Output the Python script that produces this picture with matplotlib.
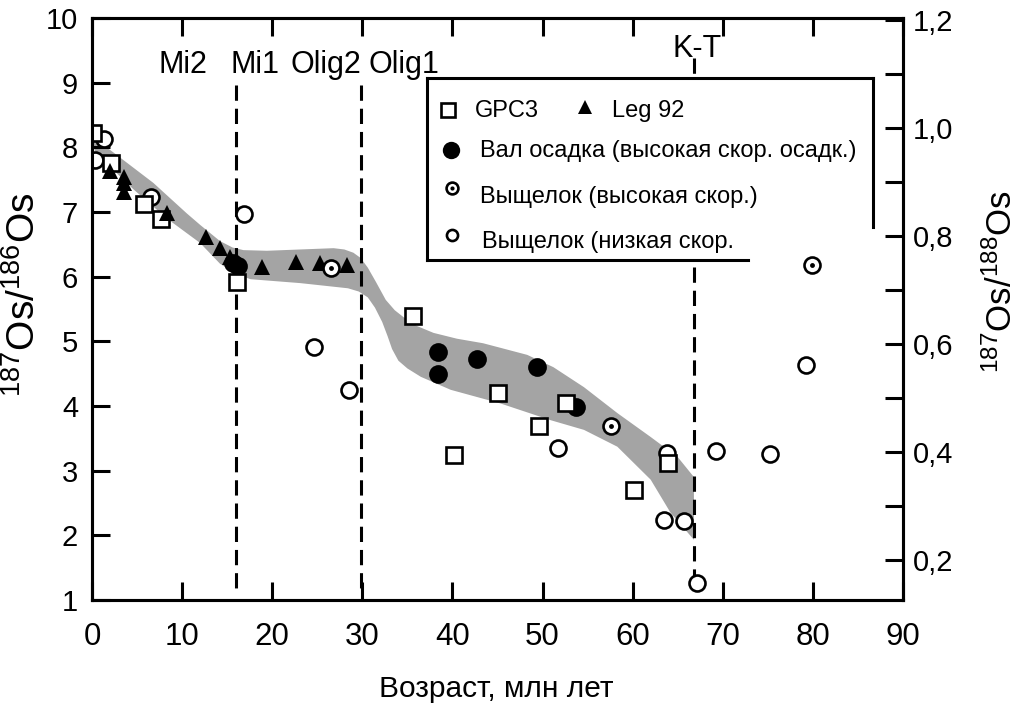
import numpy as np
import matplotlib
matplotlib.use('Agg')
import matplotlib.pyplot as plt
from matplotlib.patches import Rectangle
from matplotlib.ticker import MultipleLocator, FuncFormatter

plt.rcParams['font.family'] = ['Liberation Sans', 'DejaVu Sans']
plt.rcParams['mathtext.fontset'] = 'custom'
plt.rcParams['mathtext.rm'] = 'Liberation Sans'
plt.rcParams['mathtext.it'] = 'Liberation Sans:italic'

# --- data (age, Ma ; 187Os/186Os) ---
gpc3_age = [0.1, 2.1, 5.8, 7.6, 16.1, 35.6, 40.2, 45.1, 49.6, 52.6, 60.1, 63.9]
gpc3_os = [8.22, 7.76, 7.12, 6.89, 5.92, 5.39, 3.24, 4.20, 3.69, 4.05, 2.70, 3.12]

leg92_age = [2.0, 3.5, 3.5, 3.6, 8.3, 12.6, 14.2, 15.3, 18.9, 22.6, 25.3, 28.3]
leg92_os = [7.63, 7.54, 7.45, 7.31, 6.98, 6.61, 6.44, 6.30, 6.15, 6.23, 6.21, 6.18]

bulk_age = [15.7, 16.2, 38.4, 38.4, 42.7, 49.4, 53.7]
bulk_os = [6.21, 6.17, 4.84, 4.50, 4.73, 4.60, 3.98]

leach_hi_age = [26.5, 57.6, 79.9]
leach_hi_os = [6.13, 3.69, 6.18]

leach_lo_age = [0.3, 1.3, 6.5, 16.9, 24.6, 28.5, 51.7, 63.8, 63.5, 65.7, 67.1, 69.3, 75.2, 79.2]
leach_lo_os = [7.80, 8.13, 7.23, 6.97, 4.91, 4.25, 3.35, 3.27, 2.24, 2.22, 1.26, 3.30, 3.26, 4.63]

# grey envelope
band_up_age = [0.1, 2.0, 6.8, 10.5, 12.0, 14.2, 15.6, 16.8, 19.4, 26.8, 28.0, 29.0, 29.8, 30.6,
               31.5, 32.6, 33.6, 34.6, 36.0, 37.9, 40.5, 43.4, 48.3, 51.2, 54.6, 58.3, 62.0, 65.0, 66.8]
band_up_os = [8.11, 7.96, 7.45, 6.98, 6.80, 6.55, 6.45, 6.41, 6.40, 6.44, 6.42, 6.37, 6.29, 6.14,
              5.92, 5.64, 5.48, 5.37, 5.24, 5.13, 5.04, 4.97, 4.79, 4.60, 4.29, 3.89, 3.52, 3.21, 2.90]
band_lo_age = [0.3, 2.0, 4.6, 8.3, 12.0, 14.2, 16.0, 17.6, 23.1, 28.4, 29.6, 30.6, 31.4, 32.2,
               32.8, 33.3, 34.0, 35.0, 36.5, 39.8, 45.3, 50.9, 54.6, 58.3, 62.0, 64.2, 66.8]
band_lo_os = [7.95, 7.70, 7.35, 6.90, 6.52, 6.20, 6.04, 5.96, 5.90, 5.82, 5.77, 5.68, 5.52, 5.30,
              5.08, 4.88, 4.70, 4.58, 4.45, 4.25, 4.04, 3.78, 3.63, 3.37, 2.86, 2.35, 1.93]

event_ages = [16.0, 29.9, 66.8]
event_labels = ['Mi2', 'Mi1', 'Olig2', 'Olig1', 'K-T']

right_ticks = [0.2, 0.4, 0.6, 0.8, 1.0, 1.2]

fig = plt.figure(figsize=(10.26, 7.05), dpi=100)
ax = fig.add_axes([0.0897, 0.149, 0.7904, 0.8255])

# envelope
ax.fill(np.concatenate([band_up_age, band_lo_age[::-1]]),
        np.concatenate([band_up_os, band_lo_os[::-1]]),
        color='#a4a4a4', lw=0, zorder=1)

# event lines
dash = (0, (5, 2.6))
ax.plot([event_ages[0]] * 2, [8.96, 1.12], color='k', lw=2.2, ls=dash, zorder=1.5)
ax.plot([event_ages[1]] * 2, [8.96, 1.12], color='k', lw=2.2, ls=dash, zorder=1.5)
ax.plot([event_ages[2]] * 2, [9.38, 1.35], color='k', lw=2.2, ls=dash, zorder=1.5)

for name, x, y in zip(event_labels, [10.1, 18.1, 26.0, 34.6, 67.1],
                      [9.27, 9.27, 9.27, 9.27, 9.52]):
    ax.text(x, y, name, ha='center', va='center', fontsize=22, zorder=8)

# data points
ax.plot(leach_lo_age, leach_lo_os, 'o', ms=11.5, mfc='white', mec='k', mew=1.9, ls='none', zorder=3)
ax.plot(bulk_age, bulk_os, 'o', ms=13.5, color='k', mew=0, ls='none', zorder=3.5)
ax.plot(gpc3_age, gpc3_os, 's', ms=11.5, mfc='white', mec='k', mew=1.9, ls='none', zorder=4)
ax.plot(leg92_age, leg92_os, '^', ms=11, color='k', mew=0, ls='none', zorder=5)
ax.plot(leach_hi_age, leach_hi_os, 'o', ms=11.5, mfc='white', mec='k', mew=1.9, ls='none', zorder=6)
ax.plot(leach_hi_age, leach_hi_os, 'o', ms=3.5, color='k', mew=0, ls='none', zorder=6.5)

# legend box (open at lower right, as in the original)
ta = ax.transAxes
ax.add_patch(Rectangle((0.413, 0.584), 0.55, 0.313, transform=ta, fc='white', ec='none', zorder=2.5))
ax.plot([0.413, 0.963], [0.897, 0.897], transform=ta, color='k', lw=2.2, zorder=7)
ax.plot([0.413, 0.413], [0.897, 0.584], transform=ta, color='k', lw=2.2, zorder=7)
ax.plot([0.413, 0.809], [0.584, 0.584], transform=ta, color='k', lw=2.2, zorder=7)
ax.plot([0.963, 0.963], [0.897, 0.641], transform=ta, color='k', lw=2.2, zorder=7)

fs_leg = 17
ax.plot([0.439], [0.842], 's', transform=ta, ms=9.5, mfc='white', mec='k', mew=1.9, zorder=7)
ax.text(0.472, 0.840, 'GPC3', transform=ta, va='center', fontsize=fs_leg, zorder=7)
ax.plot([0.608], [0.847], '^', transform=ta, ms=10, color='k', mew=0, zorder=7)
ax.text(0.641, 0.840, 'Leg 92', transform=ta, va='center', fontsize=fs_leg, zorder=7)
ax.plot([0.443], [0.773], 'o', transform=ta, ms=12.5, color='k', mew=0, zorder=7)
ax.text(0.478, 0.771, 'Вал осадка (высокая скор. осадк.)', transform=ta, va='center', fontsize=fs_leg, zorder=7)
ax.plot([0.444], [0.708], 'o', transform=ta, ms=8.5, mfc='white', mec='k', mew=1.9, zorder=7)
ax.plot([0.444], [0.708], 'o', transform=ta, ms=3, color='k', mew=0, zorder=7.5)
ax.text(0.478, 0.692, 'Выщелок (высокая скор.)', transform=ta, va='center', fontsize=fs_leg, zorder=7)
ax.plot([0.444], [0.627], 'o', transform=ta, ms=8, mfc='white', mec='k', mew=1.9, zorder=7)
ax.text(0.481, 0.615, 'Выщелок (низкая скор.', transform=ta, va='center', fontsize=fs_leg, zorder=7)

# axes
ax.set_xlim(0, 90)
ax.set_ylim(1, 10)
ax.set_xticks(range(0, 91, 10))
ax.set_yticks(range(1, 11))
ax.tick_params(direction='in', length=13, width=2.2, top=True, right=False)
ax.tick_params(axis='x', labelsize=22.5, pad=16)
ax.tick_params(axis='y', labelsize=21, pad=10)
for s in ax.spines.values():
    s.set_linewidth(2.2)

ax2 = ax.twinx()
ax2.set_ylim(0.126, 1.204)
ax2.set_yticks(right_ticks)
ax2.yaxis.set_minor_locator(MultipleLocator(0.1))
ax2.yaxis.set_major_formatter(FuncFormatter(lambda v, p: f'{v:.1f}'.replace('.', ',')))
ax2.tick_params(which='both', direction='in', length=13, width=2.2, labelsize=21, pad=7)
for s in ax2.spines.values():
    s.set_linewidth(2.2)

fig.text(0.023, 0.582, r'$^{187}$Os/$^{186}$Os', rotation=90, ha='center', va='center', fontsize=28)
fig.text(0.976, 0.60, r'$^{187}$Os/$^{188}$Os', rotation=90, ha='center', va='center', fontsize=25)
fig.text(0.484, 0.022, 'Возраст, млн лет', ha='center', va='center', fontsize=21.5)

fig.savefig('out.png', dpi=100, facecolor='white')
